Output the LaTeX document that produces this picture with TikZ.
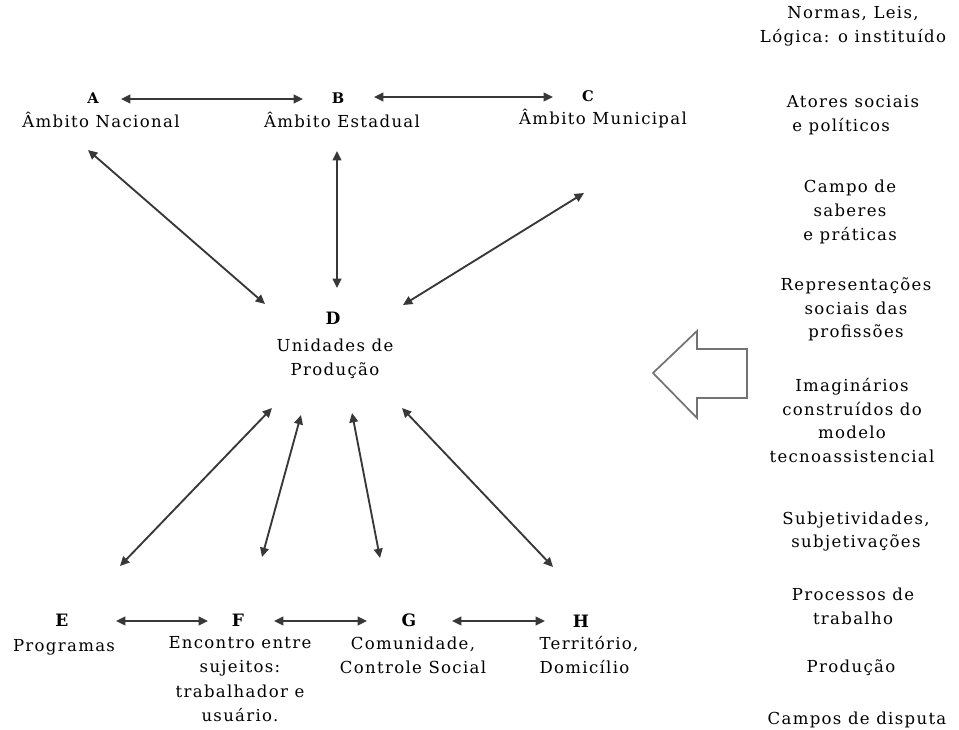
\documentclass[tikz,border=0pt]{standalone}
\usepackage{fontspec}
\setmainfont{DejaVu Serif}[LetterSpace=8]
\usetikzlibrary{arrows.meta}
\begin{document}
\begin{tikzpicture}[x=0.75pt,y=-0.75pt,
  txt/.style={align=center,inner sep=0pt,font=\fontsize{12.4}{17.8}\selectfont},
  letterA/.style={inner sep=0pt,font=\fontsize{11}{12}\selectfont\bfseries},
  letterE/.style={inner sep=0pt,font=\fontsize{12.8}{14}\selectfont\bfseries},
  biarrow/.style={draw=black!78,line width=1.4pt,
    {Triangle[length=7pt,width=6.5pt]}-{Triangle[length=7pt,width=6.5pt]}},
  blockarrow/.style={draw=black!55,line width=1.3pt,line join=miter}]
\useasboundingbox (0,0) rectangle (959,729);

% upper level: the three spheres of government
\node[letterA] (la) at (93,98) {A};
\node[txt] (nac) at (101,120) {Âmbito Nacional};
\node[letterA] (lb) at (338,98) {B};
\node[txt] (est) at (342,120) {Âmbito Estadual};
\node[letterA] (lc) at (588,96) {C};
\node[txt] (mun) at (603,119) {Âmbito Municipal};

% centre
\node[letterE] (ld) at (333,318) {D};
\node[txt] (uni) at (335,358.5) {Unidades de\\Produção};

% lower level
\node[letterE] (le) at (62,620) {E};
\node[txt] (prog) at (64,647) {Programas};
\node[letterE] (lf) at (238,620) {F};
\node[txt,font=\fontsize{12.4}{18.3}\selectfont] (enc) at (240,679) {Encontro entre\\sujeitos:\\trabalhador e\\usuário.};
\node[letterE] (lg) at (409,620) {G};
\node[txt] (com) at (413,655) {Comunidade,\\Controle Social};
\node[letterE] (lh) at (581,621) {H};
\node[txt,align=left] (ter) at (589,655) {Território,\\Domicílio};

% right column
\node[txt] (r1) at (853,26.5) {Normas, Leis,\\Lógica: o instituído};
\node[txt,align=left] (r2) at (853,115) {Atores sociais\\\hspace{4pt}e políticos};
\node[txt] (r3) at (850,212) {Campo de\\saberes\\e práticas};
\node[txt] (r4) at (856,309.5) {Representações\\sociais das\\profissões};
\node[txt] (r5) at (852,420.5) {Imaginários\\construídos do\\modelo\\tecnoassistencial};
\node[txt] (r6) at (856,531.5) {Subjetividades,\\subjetivações};
\node[txt] (r7) at (853,606.5) {Processos de\\trabalho};
\node[txt] (r8) at (851,668) {Produção};
\node[txt] (r9) at (857,720) {Campos de disputa};

% hollow block arrow pointing left
\draw[blockarrow] (653,373) -- (697,331) -- (697,349) -- (747,349)
  -- (747,398) -- (697,398) -- (697,418) -- cycle;

% connector end points
\coordinate (ab1) at (121,99);  \coordinate (ab2) at (303,99);
\coordinate (bc1) at (374,97);  \coordinate (bc2) at (553,97);
\coordinate (ad1) at (88,150);  \coordinate (ad2) at (265,304);
\coordinate (bd1) at (337,151); \coordinate (bd2) at (337,288);
\coordinate (cd1) at (584,193); \coordinate (cd2) at (403,305);
\coordinate (de1) at (272,408); \coordinate (de2) at (120,566);
\coordinate (df1) at (301,415); \coordinate (df2) at (262,557);
\coordinate (dg1) at (352,413); \coordinate (dg2) at (380,558);
\coordinate (dh1) at (402,408); \coordinate (dh2) at (553,567);
\coordinate (ef1) at (116,621); \coordinate (ef2) at (208,621);
\coordinate (fg1) at (274,621); \coordinate (fg2) at (367,621);
\coordinate (gh1) at (452,621); \coordinate (gh2) at (545,621);

\draw[biarrow] (ab1) -- (ab2);
\draw[biarrow] (bc1) -- (bc2);
\draw[biarrow] (ad1) -- (ad2);
\draw[biarrow] (bd1) -- (bd2);
\draw[biarrow] (cd1) -- (cd2);
\draw[biarrow] (de1) -- (de2);
\draw[biarrow] (df1) -- (df2);
\draw[biarrow] (dg1) -- (dg2);
\draw[biarrow] (dh1) -- (dh2);
\draw[biarrow] (ef1) -- (ef2);
\draw[biarrow] (fg1) -- (fg2);
\draw[biarrow] (gh1) -- (gh2);
\end{tikzpicture}
\end{document}
